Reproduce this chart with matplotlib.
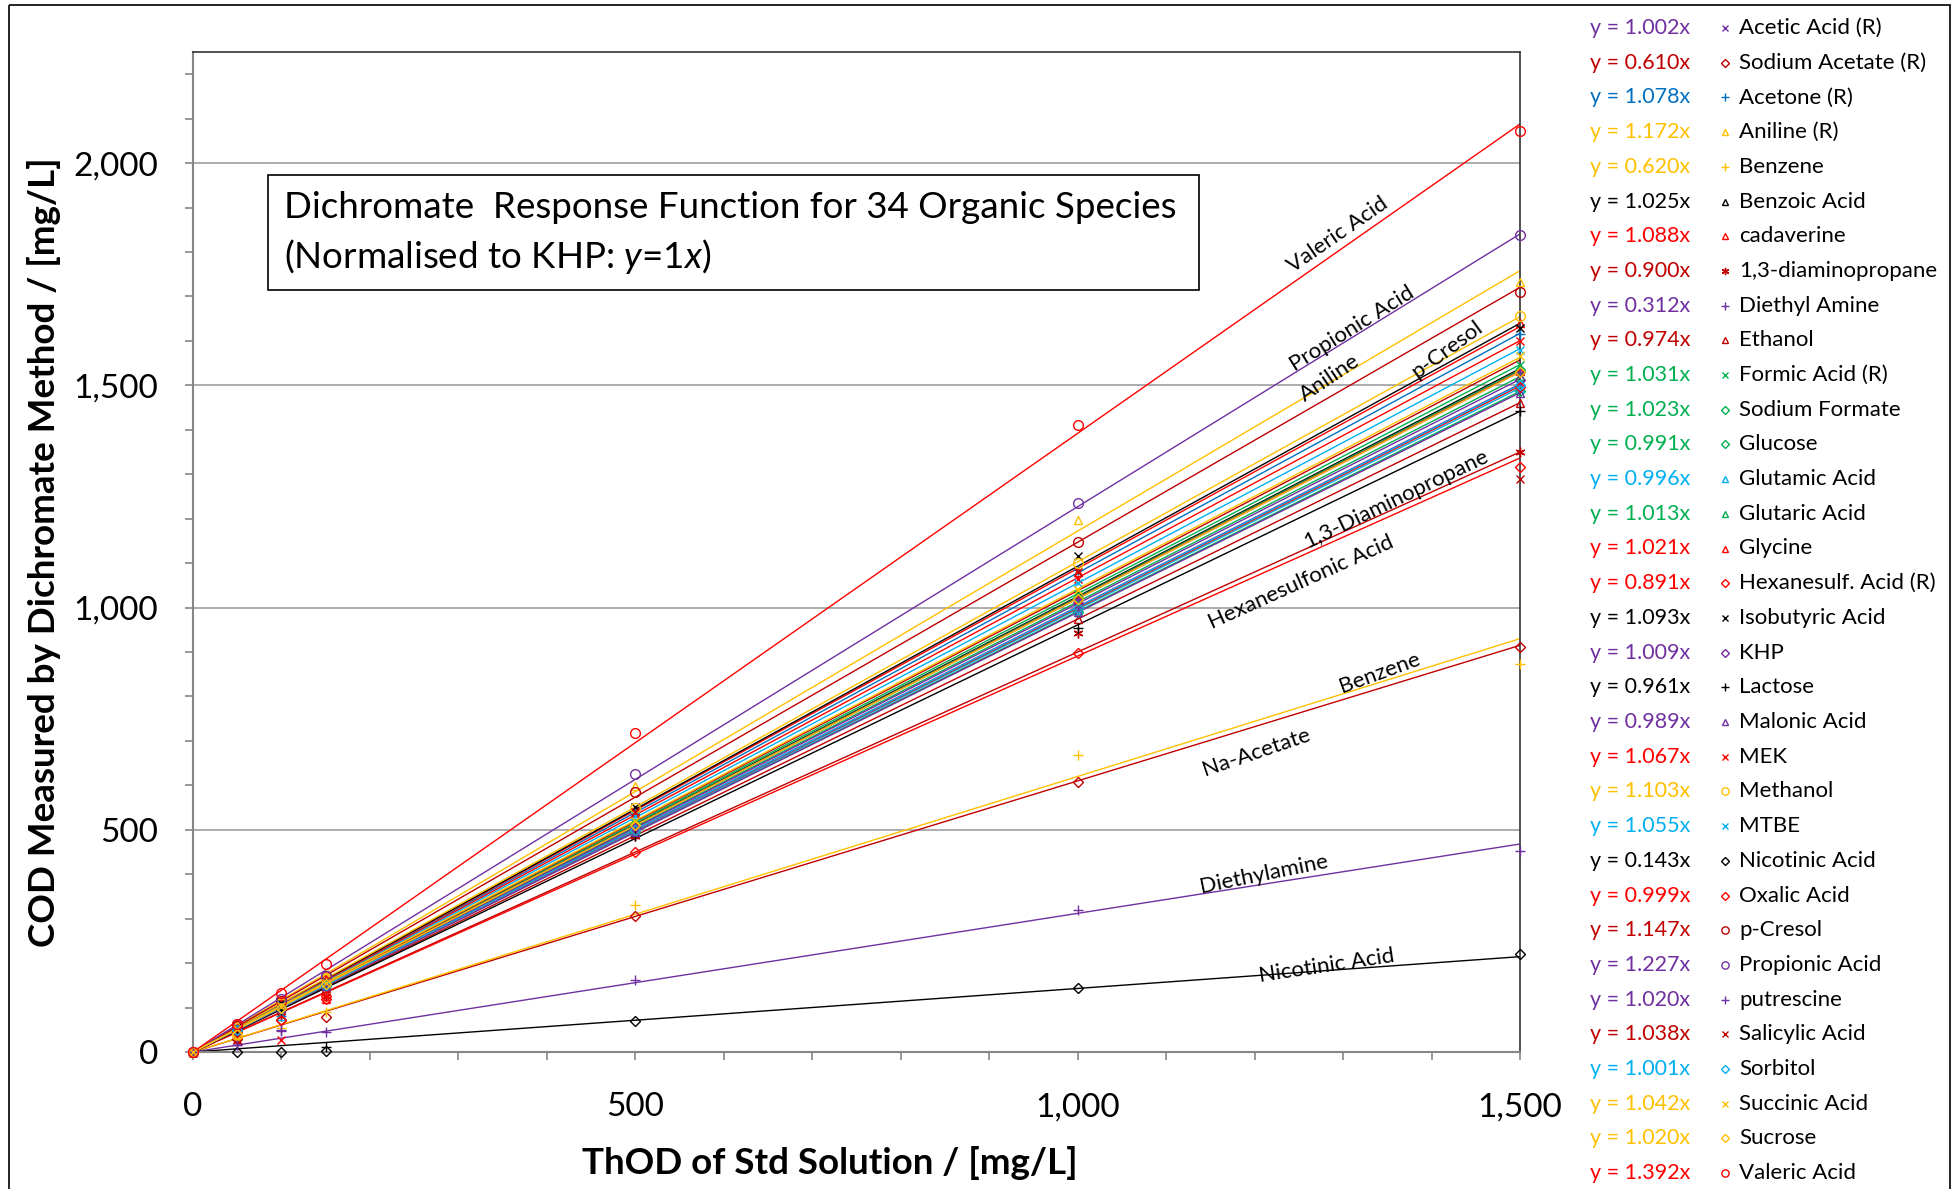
import numpy as np
import matplotlib
matplotlib.use("Agg")
import matplotlib.pyplot as plt
from matplotlib.ticker import MultipleLocator, FuncFormatter
from matplotlib.patches import Rectangle

plt.rcParams['font.family'] = ['Lato', 'DejaVu Sans']
plt.rcParams['mathtext.fontset'] = 'custom'
plt.rcParams['mathtext.rm'] = 'Lato'
plt.rcParams['mathtext.it'] = 'Lato:italic'

# ---------------- data ----------------
thod = [0, 50, 100, 150, 500, 1000, 1500]   # ThOD of standard solution (mg/L)

species = ["Acetic Acid (R)", "Sodium Acetate (R)", "Acetone (R)", "Aniline (R)", "Benzene",
           "Benzoic Acid", "cadaverine", "1,3-diaminopropane", "Diethyl Amine", "Ethanol",
           "Formic Acid (R)", "Sodium Formate", "Glucose", "Glutamic Acid", "Glutaric Acid",
           "Glycine", "Hexanesulf. Acid (R)", "Isobutyric Acid", "KHP", "Lactose",
           "Malonic Acid", "MEK", "Methanol", "MTBE", "Nicotinic Acid", "Oxalic Acid",
           "p-Cresol", "Propionic Acid", "putrescine", "Salicylic Acid", "Sorbitol",
           "Succinic Acid", "Sucrose", "Valeric Acid"]

slopes = [1.002, 0.610, 1.078, 1.172, 0.620, 1.025, 1.088, 0.900, 0.312, 0.974,
          1.031, 1.023, 0.991, 0.996, 1.013, 1.021, 0.891, 1.093, 1.009, 0.961,
          0.989, 1.067, 1.103, 1.055, 0.143, 0.999, 1.147, 1.227, 1.020, 1.038,
          1.001, 1.042, 1.020, 1.392]

# measured COD (mg/L) at each ThOD level
cod_acetic      = [0, 50, 98, 152, 498, 1005, 1502]
cod_na_acetate  = [0, 30, 72, 79, 306, 607, 911]
cod_acetone     = [0, 52, 80, 160, 540, 1085, 1615]
cod_aniline     = [0, 60, 115, 175, 598, 1197, 1732]
cod_benzene     = [0, 40, 55, 90, 331, 668, 872]
cod_benzoic     = [0, 52, 102, 152, 515, 1025, 1535]
cod_cadaverine  = [0, 55, 110, 165, 545, 1080, 1640]
cod_diaminoprop = [0, 25, 80, 125, 486, 942, 1350]
cod_diethylam   = [0, 15, 47, 45, 162, 320, 452]
cod_ethanol     = [0, 48, 95, 145, 490, 975, 1460]
cod_formic      = [0, 52, 100, 150, 515, 1030, 1545]
cod_na_formate  = [0, 50, 100, 150, 512, 1022, 1535]
cod_glucose     = [0, 50, 98, 148, 495, 990, 1487]
cod_glutamic    = [0, 48, 80, 150, 500, 995, 1495]
cod_glutaric    = [0, 50, 100, 152, 505, 1015, 1520]
cod_glycine     = [0, 50, 100, 120, 510, 1020, 1532]
cod_hexanesulf  = [0, 45, 72, 125, 450, 897, 1316]
cod_isobutyric  = [0, 55, 110, 160, 551, 1116, 1630]
cod_khp         = [0, 50, 100, 150, 505, 1010, 1512]
cod_lactose     = [0, 48, 95, 11, 486, 953, 1443]
cod_malonic     = [0, 50, 98, 148, 495, 990, 1482]
cod_mek         = [0, 52, 27, 160, 535, 1065, 1600]
cod_methanol    = [0, 38, 110, 165, 550, 1100, 1655]
cod_mtbe        = [0, 52, 105, 158, 530, 1055, 1580]
cod_nicotinic   = [0, 0, 0, 2, 70, 143, 220]
cod_oxalic      = [0, 50, 100, 119, 500, 1000, 1497]
cod_pcresol     = [0, 58, 115, 172, 585, 1147, 1710]
cod_propionic   = [0, 62, 120, 171, 625, 1235, 1838]
cod_putrescine  = [0, 15, 50, 152, 510, 1020, 1530]
cod_salicylic   = [0, 52, 104, 156, 540, 1080, 1290]
cod_sorbitol    = [0, 50, 100, 150, 500, 1000, 1500]
cod_succinic    = [0, 52, 104, 155, 520, 1040, 1565]
cod_sucrose     = [0, 40, 100, 152, 510, 1020, 1530]
cod_valeric     = [0, 63, 133, 198, 717, 1410, 2072]

measured = [cod_acetic, cod_na_acetate, cod_acetone, cod_aniline, cod_benzene,
            cod_benzoic, cod_cadaverine, cod_diaminoprop, cod_diethylam, cod_ethanol,
            cod_formic, cod_na_formate, cod_glucose, cod_glutamic, cod_glutaric,
            cod_glycine, cod_hexanesulf, cod_isobutyric, cod_khp, cod_lactose,
            cod_malonic, cod_mek, cod_methanol, cod_mtbe, cod_nicotinic, cod_oxalic,
            cod_pcresol, cod_propionic, cod_putrescine, cod_salicylic, cod_sorbitol,
            cod_succinic, cod_sucrose, cod_valeric]

PUR, DRED, RED, BLUE, LBLUE, GOLD, GRN, BLK = ('#7030A0', '#C00000', '#FF0000', '#0070C0',
                                                '#00B0F0', '#FFC000', '#00B050', '#000000')
colors = [PUR, DRED, BLUE, GOLD, GOLD, BLK, RED, DRED, PUR, DRED,
          GRN, GRN, GRN, LBLUE, GRN, RED, RED, BLK, PUR, BLK,
          PUR, RED, GOLD, LBLUE, BLK, RED, DRED, PUR, PUR, DRED,
          LBLUE, GOLD, GOLD, RED]
marker_kind = ['x', 'D', '+', '^', '+', '^', '^', '*', '+', '^',
               'x', 'D', 'D', '^', '^', '^', 'D', 'x', 'D', '+',
               '^', 'x', 'o', 'x', 'D', 'D', 'o', 'o', '+', 'x',
               'D', 'x', 'D', 'o']

line_labels = ["Valeric Acid", "Propionic Acid", "Aniline", "p-Cresol", "1,3-Diaminopropane",
               "Hexanesulfonic Acid", "Benzene", "Na-Acetate", "Diethylamine", "Nicotinic Acid"]
label_x = [1294, 1310, 1285, 1417, 1360, 1252, 1342, 1202, 1211, 1281]
label_y = [1838, 1628, 1516, 1581, 1244, 1057, 853, 675, 400, 193]
label_rot = [34.6, 32, 34, 36, 25.7, 24.2, 20, 18.7, 11.5, 8.5]

# ---------------- figure ----------------
W, H = 1957, 1189
fig = plt.figure(figsize=(W / 100, H / 100), dpi=100)
fig.patch.set_facecolor('white')

ax = fig.add_axes([193 / W, 1 - 1052 / H, 1327 / W, 1000 / H])
ax.set_xlim(0, 1500)
ax.set_ylim(0, 2250)

ax.yaxis.set_major_locator(MultipleLocator(500))
ax.yaxis.set_minor_locator(MultipleLocator(100))
ax.xaxis.set_major_locator(MultipleLocator(500))
ax.xaxis.set_minor_locator(MultipleLocator(100))
fmt = FuncFormatter(lambda v, p: f"{int(v):,}")
ax.xaxis.set_major_formatter(fmt)
ax.yaxis.set_major_formatter(fmt)
ax.tick_params(axis='both', which='both', direction='out', length=6, width=1.2, color='#868686',
               labelsize=24)
ax.tick_params(axis='x', which='major', pad=23)
ax.tick_params(axis='y', which='major', pad=19)
ax.grid(axis='y', which='major', color='#A6A6A6', lw=1.3)
ax.set_axisbelow(True)
for s in ['left', 'bottom']:
    ax.spines[s].set_color('#868686')
    ax.spines[s].set_linewidth(1.5)
for s in ['top', 'right']:
    ax.spines[s].set_color('#333333')
    ax.spines[s].set_linewidth(1.2)

xline = np.array([0, 1500])
for ys, k, c, name in zip(measured, slopes, colors, species):
    ax.plot(xline, k * xline, color=c, lw=1.0, zorder=2)

msize = {'x': 6, 'D': 5, '+': 7, '^': 6, 'o': 7, '*': 7}
for ys, m, c in zip(measured, marker_kind, colors):
    mk = (6, 2, 0) if m == '*' else m
    ax.plot(thod, ys, linestyle='none', marker=mk, ms=msize[m], mfc='none', mec=c,
            mew=1.0, zorder=3, clip_on=False)

for t, x, y, r in zip(line_labels, label_x, label_y, label_rot):
    ax.text(x, y, t, rotation=r, rotation_mode='anchor', ha='center', va='center',
            fontsize=16, color='black', zorder=5)

ax.set_xlabel("ThOD of Std Solution / [mg/L]", fontsize=26.5, fontweight='bold', va='center')
ax.xaxis.set_label_coords(0.48, -0.111)
ax.set_ylabel("COD Measured by Dichromate Method / [mg/L]", fontsize=26.5, fontweight='bold',
              va='center')
ax.yaxis.set_label_coords(-0.1123, 0.5)

# ---------------- overlay (pixel coords) ----------------
ov = fig.add_axes([0, 0, 1, 1], zorder=10)
ov.set_xlim(0, W)
ov.set_ylim(H, 0)
ov.axis('off')
ov.patch.set_alpha(0)

ov.add_patch(Rectangle((9, 5), 1941, 1200, fill=False, ec='black', lw=1.2, clip_on=False))

ov.add_patch(Rectangle((268, 175), 931, 115, facecolor='white', ec='black', lw=1.2))
ov.text(284, 208, "Dichromate  Response Function for 34 Organic Species", fontsize=26.5,
        ha='left', va='center')
ov.text(284, 257, r"(Normalised to KHP: $\it{y}$=1$\it{x}$)", fontsize=26.5,
        ha='left', va='center')

row0, dy = 28, 34.7
for i, (name, k, c, m) in enumerate(zip(species, slopes, colors, marker_kind)):
    yy = row0 + i * dy
    ov.text(1640, yy, f"y = {k:.3f}x", color=c, fontsize=15.5, ha='center', va='center')
    mk = (6, 2, 0) if m == '*' else m
    ov.plot([1725], [yy], linestyle='none', marker=mk, ms=msize[m] * 0.75, mfc='none',
            mec=c, mew=1.0)
    ov.text(1739, yy, name, color='black', fontsize=16, ha='left', va='center')

fig.savefig("out.png", dpi=100, facecolor='white')
